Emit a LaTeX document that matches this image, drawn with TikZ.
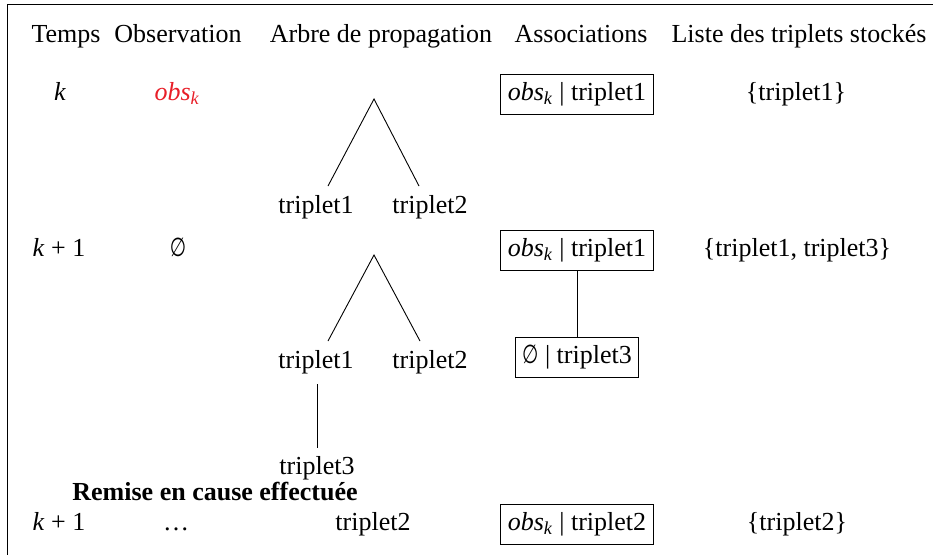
\documentclass[tikz,border=0pt]{standalone}
\usepackage{fontspec}
\setmainfont{Liberation Serif}
\newfontfamily\symfont{DejaVu Sans}
\definecolor{obsred}{RGB}{232,30,40}
\newcommand{\obsk}{\textit{obs}\textsubscript{\textit{k}}}
\newcommand{\kplus}{\textit{k}\hspace{0.25em}+\hspace{0.25em}1}
\newcommand{\vide}{\scalebox{0.72}[1]{\symfont ∅}}
\begin{document}
\begin{tikzpicture}[x=1pt,y=-1pt,
  font=\fontsize{26}{30}\selectfont,
  line width=0.9pt,
  lbl/.style={anchor=base, inner sep=0pt},
  assoc/.style={draw, anchor=base, inner xsep=7pt, inner ysep=7pt,
    text height=19pt, text depth=7pt}]
\useasboundingbox (0,0) rectangle (933,555);
\draw (933,4) -- (7,4) -- (7,555);
% headers
\node[lbl] (h1) at (66,42) {Temps};
\node[lbl] (h2) at (178,42) {Observation};
\node[lbl] (h3) at (381,42) {Arbre de propagation};
\node[lbl] (h4) at (581,42) {Associations};
\node[lbl] (h5) at (799,42) {Liste des triplets stockés};
% row k
\node[lbl] (k1) at (60,100) {\textit{k}};
\node[lbl, text=obsred] (o1) at (177,100) {\obsk};
\coordinate (ap1) at (374,99);
\coordinate (l1) at (328,186);
\coordinate (r1) at (419,186);
\node[lbl] (t11) at (316,213) {triplet1};
\node[lbl] (t12) at (430,213) {triplet2};
\draw (l1) -- (ap1) -- (r1);
\node[assoc] (a1) at (577,100) {\obsk{} | triplet1};
\node[lbl] (s1) at (796,100) {\{triplet1\}};
% row k+1
\node[lbl] (k2) at (59,256) {\kplus};
\node[lbl] (o2) at (178,256) {\vide};
\coordinate (ap2) at (374,255);
\coordinate (l2) at (328,341);
\coordinate (r2) at (420,341);
\node[lbl] (t21) at (316,368) {triplet1};
\node[lbl] (t22) at (430,368) {triplet2};
\draw (l2) -- (ap2) -- (r2);
\coordinate (v1) at (317,384);
\coordinate (v2) at (317,448);
\draw (v1) -- (v2);
\node[lbl] (t3) at (317,474) {triplet3};
\node[assoc] (a2) at (577,256) {\obsk{} | triplet1};
\node[assoc] (a3) at (577,363) {\vide{} | triplet3};
\draw (a2.south) -- (a3.north);
\node[lbl] (s2) at (797,256) {\{triplet1, triplet3\}};
% remise
\node[lbl, font=\fontsize{26}{30}\selectfont\bfseries] (rm) at (215,500) {Remise en cause effectuée};
% last row
\node[lbl] (k3) at (59,530) {\kplus};
\node[lbl] (o3) at (176,530) {\ldots};
\node[lbl] (t4) at (373,530) {triplet2};
\node[assoc] (a4) at (577,530) {\obsk{} | triplet2};
\node[lbl] (s3) at (797,530) {\{triplet2\}};
\end{tikzpicture}
\end{document}
